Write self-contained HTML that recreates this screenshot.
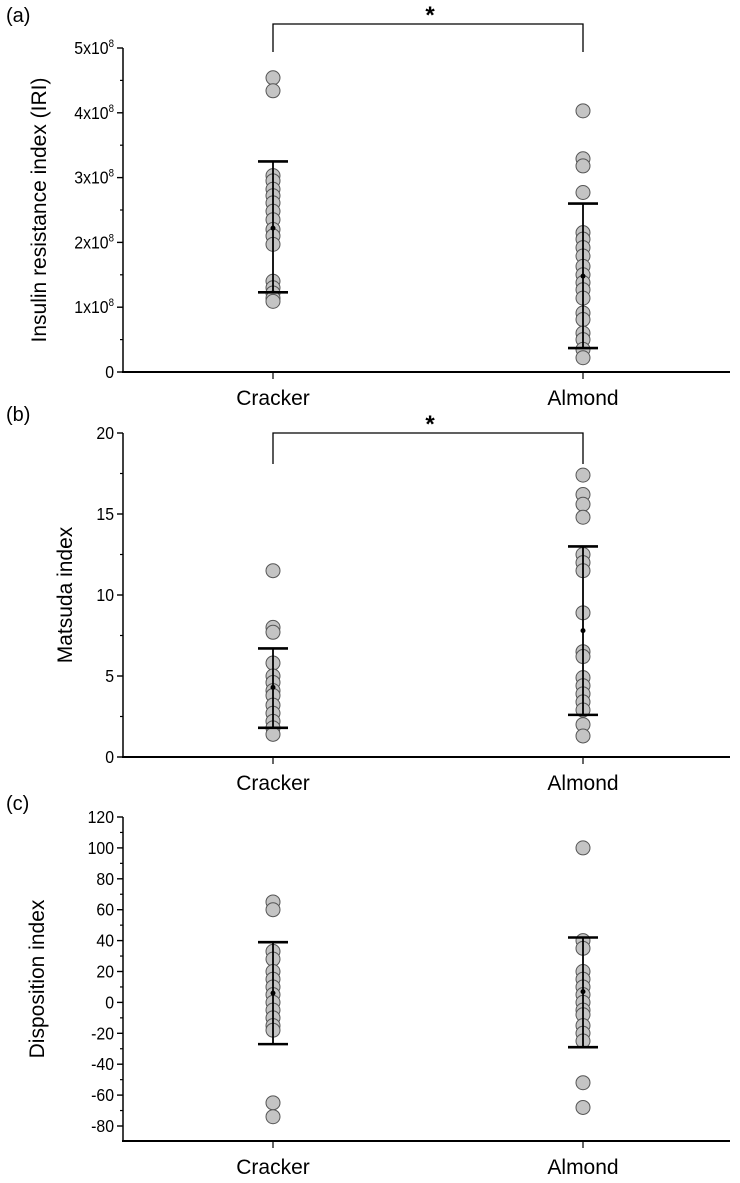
<!DOCTYPE html>
<html><head><meta charset="utf-8"><style>
body{margin:0;background:#fff;}
svg{display:block;font-family:"Liberation Sans",Arial,sans-serif;}
</style></head><body>
<svg id="fig" width="740" height="1183" viewBox="0 0 740 1183"></svg>
<script>
const categories=["Cracker","Almond"];
const aCracker=[4.54,4.34,3.03,2.95,2.82,2.72,2.61,2.48,2.35,2.2,2.1,1.97,1.40,1.30,1.22,1.14,1.09];
const aAlmond=[4.03,3.29,3.18,2.77,2.15,2.05,1.92,1.79,1.63,1.5,1.38,1.27,1.14,0.91,0.81,0.6,0.5,0.35,0.22];
const aMean=[2.22,1.48];const aHi=[3.25,2.6];const aLo=[1.23,0.37];
const aTicks=[0,1,2,3,4,5];
const bCracker=[11.5,8.0,7.7,5.8,5.0,4.6,4.1,3.8,3.2,2.7,2.2,1.8,1.4];
const bAlmond=[17.4,16.2,15.6,14.8,12.5,12.0,11.5,8.9,6.5,6.2,4.9,4.4,3.9,3.4,2.9,2.0,1.3];
const bMean=[4.3,7.8];const bHi=[6.7,13.0];const bLo=[1.8,2.6];
const bTicks=[0,5,10,15,20];
const cCracker=[65,60,33,28,20,15,10,5,0,-5,-10,-15,-18,-65,-74];
const cAlmond=[100,40,35,20,15,10,5,0,-5,-8,-15,-20,-25,-52,-68];
const cMean=[6,7];const cHi=[39,42];const cLo=[-27,-29];
const cTicks=[-80,-60,-40,-20,0,20,40,60,80,100,120];

const NS="http://www.w3.org/2000/svg";
const svg=document.getElementById('fig');
function mk(t,a,p){const e=document.createElementNS(NS,t);for(const k in a)e.setAttribute(k,a[k]);(p||svg).appendChild(e);return e;}
const xPos=i=>[273,583][i];
function panel(o){
  const g=mk('g',{});
  
  
  const y=v=>o.y0+(v-o.vmin)/(o.vmax-o.vmin)*(o.y1-o.y0);
  const ya=mk('line',{x1:123,x2:123,y1:o.axTop,y2:o.axBot,stroke:'#000','stroke-width':1.5},g);
  
  const xa=mk('line',{x1:122,x2:730,y1:o.axBot,y2:o.axBot,stroke:'#000','stroke-width':2},g);
  
  o.ticks.forEach(t=>{
    mk('line',{x1:117,x2:123,y1:y(t),y2:y(t),stroke:'#000','stroke-width':1.4},g);
    const tx=mk('text',{x:114,y:y(t)+6,'text-anchor':'end','font-size':18,transform:`translate(${114*0.12},0) scale(0.88,1)`},g);
    tx.setAttribute('x',114/0.88-114*0.12/0.88);
    
    if(o.sci&&t>0){tx.textContent=t+'x10';const s=mk('tspan',{dy:-7,'font-size':11},tx);s.textContent='8';}
    else tx.textContent=t;
  });
  o.minor.forEach(t=>mk('line',{x1:120,x2:123,y1:y(t),y2:y(t),stroke:'#000','stroke-width':1.2},g));
  const yt=mk('text',{transform:`translate(${o.titleX},${(o.axTop+o.axBot)/2}) rotate(-90)`,'text-anchor':'middle','font-size':21},g);
  yt.textContent=o.title;
  const pl=mk('text',{x:6,y:o.labelY,'font-size':20},g);pl.textContent=o.label;
  
  categories.forEach((c,i)=>{
    mk('line',{x1:xPos(i),x2:xPos(i),y1:o.axBot,y2:o.axBot+7,stroke:'#000','stroke-width':1.2},g);
    const ct=mk('text',{x:xPos(i),y:o.axBot+33,'text-anchor':'middle','font-size':21},g);
    ct.textContent=c;
    o.series[i].forEach(v=>{
      const p=mk('circle',{cx:xPos(i),cy:y(v),r:7,fill:'#c4c4c4',stroke:'#555','stroke-width':1},g);
      
    });
    const eb=mk('g',{},g);
    
    mk('line',{x1:xPos(i),x2:xPos(i),y1:y(o.hi[i]),y2:y(o.lo[i]),stroke:'#000','stroke-width':1.8},eb);
    mk('line',{x1:xPos(i)-15,x2:xPos(i)+15,y1:y(o.hi[i]),y2:y(o.hi[i]),stroke:'#000','stroke-width':2.6},eb);
    mk('line',{x1:xPos(i)-15,x2:xPos(i)+15,y1:y(o.lo[i]),y2:y(o.lo[i]),stroke:'#000','stroke-width':2.6},eb);
    mk('circle',{cx:xPos(i),cy:y(o.mean[i]),r:2.5,fill:'#000'},eb);
  });
  if(o.br){
    const b=mk('path',{d:`M273 ${o.br[1]} V${o.br[0]} H583 V${o.br[1]}`,fill:'none',stroke:'#000','stroke-width':1.3},g);
    
    const s=mk('text',{x:430,y:o.br[0]-1,'text-anchor':'middle','font-size':24,'font-weight':'bold'},g);s.textContent='*';
    
  }
}
panel({name:'panel-a',label:'(a)',labelY:22,title:'Insulin resistance index (IRI)',titleX:46,vmin:0,vmax:5,y0:372,y1:48,axTop:48,axBot:372,
  ticks:aTicks,minor:[0.5,1.5,2.5,3.5,4.5],sci:true,series:[aCracker,aAlmond],mean:aMean,hi:aHi,lo:aLo,br:[24,52]});
panel({name:'panel-b',label:'(b)',labelY:421,title:'Matsuda index',titleX:72,vmin:0,vmax:20,y0:757,y1:433,axTop:433,axBot:757,
  ticks:bTicks,minor:[2.5,7.5,12.5,17.5],series:[bCracker,bAlmond],mean:bMean,hi:bHi,lo:bLo,br:[433,464]});
panel({name:'panel-c',label:'(c)',labelY:810,title:'Disposition index',titleX:44,vmin:-80,vmax:120,y0:1126,y1:817,axTop:817,axBot:1141,
  ticks:cTicks,minor:[-70,-50,-30,-10,10,30,50,70,90,110],series:[cCracker,cAlmond],mean:cMean,hi:cHi,lo:cLo});
</script>
</body></html>
